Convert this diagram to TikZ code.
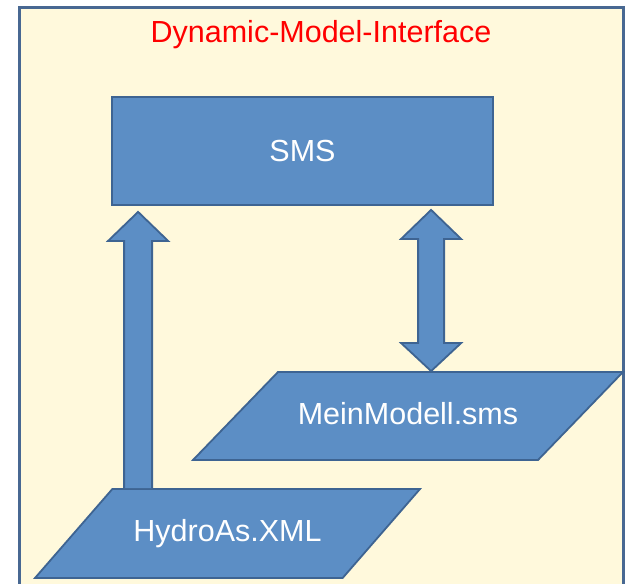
\documentclass[tikz,border=0pt]{standalone}
\usepackage{fontspec}
\setmainfont{Liberation Sans}
\usepackage{xcolor}
\usetikzlibrary{shapes.geometric, calc}
\definecolor{panelbg}{RGB}{255, 249, 220}
\definecolor{panelline}{RGB}{72, 104, 146}
\definecolor{blockblue}{RGB}{92, 142, 197}
\definecolor{blockline}{RGB}{62, 100, 146}

\begin{document}
\begin{tikzpicture}[
  x=1pt, y=-1pt,
  frame/.style={draw=panelline, line width=3pt, fill=panelbg},
  box/.style={rectangle, draw=blockline, line width=1.8pt, fill=blockblue,
    minimum width=381pt, minimum height=108pt, align=center, text=white,
    font=\fontsize{30.5}{36}\selectfont},
  datafile/.style={trapezium, trapezium stretches body, draw=blockline, line width=1.8pt,
    fill=blockblue, text height=24pt, text depth=8pt, align=center, text=white,
    font=\fontsize{30.5}{36}\selectfont},
  blockarrow/.style={draw=blockline, line width=1.8pt, fill=blockblue, line join=miter}
]
  \useasboundingbox (0,0) rectangle (627,584);
  \draw[frame] (19,7) rectangle (623,620);
  \node[text=red, font=\fontsize{30.5}{36}\selectfont] (title) at (321,35) {Dynamic-Model-Interface};

  \node[box] (sms) at (302.5,151) {SMS};
  \node[datafile, minimum width=430pt, inner ysep=28pt,
    trapezium left angle=46, trapezium right angle=134] (mein) at (408,416) {MeinModell.sms};
  \node[datafile, minimum width=385pt, inner ysep=28.5pt,
    trapezium left angle=49, trapezium right angle=131] (hydro) at (227.5,533.5) {HydroAs.XML};

  % block arrows
  \coordinate (uptip) at ($(sms.south west)+(27,6)$);
  \coordinate (upbase) at (uptip |- hydro.north);
  \draw[blockarrow] ($(upbase)+(-14,0)$) -- ($(uptip)+(-14,29)$) -- ($(uptip)+(-30,29)$) -- (uptip)
    -- ($(uptip)+(30,29)$) -- ($(uptip)+(14,29)$) -- ($(upbase)+(14,0)$);

  \coordinate (dbltop) at ($(sms.south west)+(320,4)$);
  \coordinate (dblbot) at (dbltop |- mein.north);
  \draw[blockarrow] (dbltop) -- ($(dbltop)+(30,29)$) -- ($(dbltop)+(13,29)$) -- ($(dblbot)+(13,-28)$)
    -- ($(dblbot)+(30,-28)$) -- (dblbot) -- ($(dblbot)+(-30,-28)$) -- ($(dblbot)+(-13,-28)$)
    -- ($(dbltop)+(-13,29)$) -- ($(dbltop)+(-30,29)$) -- cycle;
\end{tikzpicture}
\end{document}
